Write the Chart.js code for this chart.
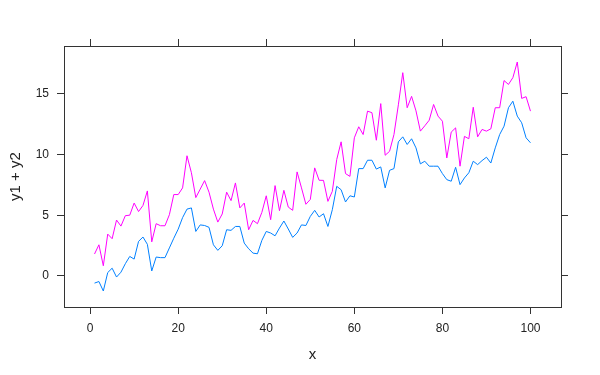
<!DOCTYPE html>
<html>
<head>
<meta charset="utf-8">
<script src="https://cdn.jsdelivr.net/npm/chart.js@4"></script>
<style>
  body { margin: 0; background: #fff; }
</style>
</head>
<body>
<canvas id="grafico" width="600" height="375"></canvas>
<script>
// x values 1..100
var xs = [];
for (var i = 1; i <= 100; i++) xs.push(i);

var y1 = [-0.6, -0.47, -1.25, 0.27, 0.63, -0.1, 0.3, 1.0, 1.6, 1.38,
          2.84, 3.2, 2.6, 0.4, 1.55, 1.5, 1.5, 2.3, 3.1, 3.85,
          4.8, 5.5, 5.6, 3.66, 4.2, 4.15, 4.0, 2.56, 2.1, 2.48,
          3.8, 3.75, 4.07, 4.07, 2.7, 2.23, 1.87, 1.82, 2.92, 3.66,
          3.53, 3.3, 3.94, 4.52, 3.86, 3.17, 3.53, 4.2, 4.15, 4.9,
          5.4, 4.85, 5.12, 4.07, 5.45, 7.38, 7.1, 6.09, 6.6, 6.5,
          8.84, 8.84, 9.53, 9.53, 8.8, 8.98, 7.25, 8.7, 8.84, 11.05,
          11.46, 10.83, 11.3, 10.55, 9.23, 9.45, 9.04, 9.04, 9.04, 8.43,
          7.93, 7.8, 8.95, 7.52, 8.07, 8.5, 9.45, 9.17, 9.5, 9.78,
          9.3, 10.55, 11.65, 12.34, 13.86, 14.4, 13.17, 12.62, 11.38, 10.97];

var y2 = [1.8, 2.56, 0.83, 3.44, 3.06, 4.6, 4.1, 4.96, 5.0, 6.0,
          5.3, 5.8, 7.0, 2.8, 4.3, 4.13, 4.13, 5.04, 6.7, 6.7,
          7.25, 9.9, 8.5, 6.45, 7.15, 7.85, 6.9, 5.5, 4.43, 5.1,
          6.9, 6.2, 7.66, 5.6, 6.0, 3.8, 4.57, 4.3, 5.23, 6.6,
          4.63, 7.44, 5.37, 7.05, 5.67, 5.4, 8.57, 7.25, 5.9, 6.3,
          8.9, 7.88, 7.87, 6.14, 6.97, 9.59, 11.05, 8.43, 8.2, 11.38,
          12.29, 11.65, 13.58, 13.45, 11.18, 14.2, 9.94, 10.27, 11.65, 14.1,
          16.75, 13.86, 14.8, 13.6, 11.93, 12.37, 12.83, 14.13, 13.17, 12.75,
          9.72, 11.85, 12.2, 9.04, 11.5, 11.3, 13.9, 11.46, 12.07, 11.93,
          12.12, 13.86, 13.86, 16.1, 15.78, 16.34, 17.63, 14.63, 14.77, 13.58];

var xTicks = [0, 20, 40, 60, 80, 100];
var yTicks = [0, 5, 10, 15];

function pontos(ys) {
    return xs.map(function (x, k) { return { x: x, y: ys[k] }; });
}

function fixarTicks(valores) {
    return function (scale) {
        scale.ticks = valores.map(function (v) { return { value: v }; });
    };
}

var fonte = "'Liberation Sans', Arial, sans-serif";
var corTexto = "#222";
var corLinha = "#333";

var grade = { drawOnChartArea: false, drawTicks: true, tickLength: 7, color: corLinha, lineWidth: 1 };
var borda = { display: true, color: corLinha, width: 1 };

var ctx = document.getElementById("grafico").getContext("2d");
var grafico = new Chart(ctx, {
    type: 'line',
    data: {
        datasets: [
            {
                label: "y1",
                data: pontos(y1),
                borderColor: "#0080ff",
                borderWidth: 1,
                pointRadius: 0,
                fill: false,
                tension: 0,
                xAxisID: 'x',
                yAxisID: 'y'
            },
            {
                label: "y2",
                data: pontos(y2),
                borderColor: "#ff00ff",
                borderWidth: 1,
                pointRadius: 0,
                fill: false,
                tension: 0,
                xAxisID: 'x',
                yAxisID: 'y'
            }
        ]
    },
    options: {
        responsive: false,
        animation: false,
        layout: { padding: 0 },
        plugins: {
            legend: { display: false },
            tooltip: { enabled: false }
        },
        scales: {
            x: {
                type: 'linear',
                position: 'bottom',
                min: -5.93,
                max: 106.93,
                afterBuildTicks: fixarTicks(xTicks),
                afterFit: function (s) { s.height = 68; },
                grid: grade,
                border: borda,
                ticks: { color: corTexto, font: { family: fonte, size: 12 }, padding: 7, maxRotation: 0 },
                title: { display: true, text: "x", color: corTexto, font: { family: fonte, size: 15 }, padding: { top: 0, bottom: 11 } }
            },
            x2: {
                type: 'linear',
                position: 'top',
                min: -5.93,
                max: 106.93,
                afterBuildTicks: fixarTicks(xTicks),
                afterFit: function (s) { s.height = 46; },
                grid: grade,
                border: borda,
                ticks: { display: false }
            },
            y: {
                type: 'linear',
                position: 'left',
                min: -2.57,
                max: 18.95,
                afterBuildTicks: fixarTicks(yTicks),
                afterFit: function (s) { s.width = 64; },
                grid: grade,
                border: borda,
                ticks: { color: corTexto, font: { family: fonte, size: 12 }, padding: 8 },
                title: { display: true, text: "y1 + y2", color: corTexto, font: { family: fonte, size: 15 }, padding: { top: 7, bottom: 0 } }
            },
            y2: {
                type: 'linear',
                position: 'right',
                min: -2.57,
                max: 18.95,
                afterBuildTicks: fixarTicks(yTicks),
                afterFit: function (s) { s.width = 39; },
                grid: grade,
                border: borda,
                ticks: { display: false }
            }
        }
    }
});
</script>
</body>
</html>
